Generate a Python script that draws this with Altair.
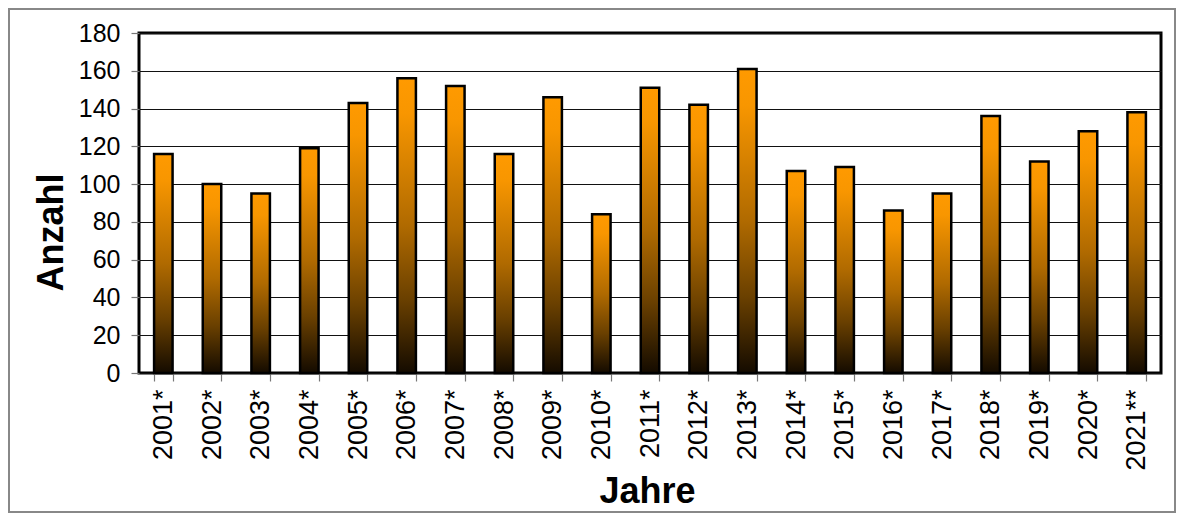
import altair as alt
import pandas as pd

years = ["2001*", "2002*", "2003*", "2004*", "2005*", "2006*", "2007*", "2008*", "2009*", "2010*",
         "2011*", "2012*", "2013*", "2014*", "2015*", "2016*", "2017*", "2018*", "2019*", "2020*", "2021**"]
counts = [116, 100, 95, 119, 143, 156, 152, 116, 146, 84,
          151, 142, 161, 107, 109, 86, 95, 136, 112, 128, 138]
y_ticks = [0, 20, 40, 60, 80, 100, 120, 140, 160, 180]

df = pd.DataFrame({"Jahr": years, "Anzahl": counts})

FONT = "Liberation Sans, Arial, sans-serif"
W, H = 1022, 340

gradient = alt.LinearGradient(
    gradient="linear",
    stops=[
        alt.GradientStop(color="#FF9A00", offset=0),
        alt.GradientStop(color="#F89600", offset=0.12),
        alt.GradientStop(color="#B06A00", offset=0.5),
        alt.GradientStop(color="#6A4000", offset=0.75),
        alt.GradientStop(color="#140B00", offset=1),
    ],
    x1=0, x2=0, y1=0, y2=1,
)

bars = alt.Chart(df).mark_bar(
    color=gradient, stroke="#000000", strokeWidth=2.5
).encode(
    x=alt.X("Jahr:N", sort=years,
            scale=alt.Scale(paddingInner=0.62, paddingOuter=0.31),
            axis=alt.Axis(
                title="Jahre", labelAngle=270, labelAlign="right", labelBaseline="middle",
                labelFont=FONT, labelFontSize=27, labelColor="#000", labelPadding=8,
                tickBand="extent", ticks=True, tickSize=8, tickColor="#777", tickWidth=1.2,
                domain=False, grid=False,
                titleFont=FONT, titleFontSize=36, titleFontWeight="bold", titleColor="#000",
                titleBaseline="alphabetic", titleY=129, titleX=W / 2 - 3,
            )),
    y=alt.Y("Anzahl:Q",
            scale=alt.Scale(domain=[0, 180], nice=False),
            axis=alt.Axis(
                title="Anzahl", values=y_ticks,
                labelFont=FONT, labelFontSize=25, labelColor="#000", labelPadding=11,
                ticks=True, tickSize=8, tickColor="#777", tickWidth=1.2,
                domain=False,
                grid=True, gridColor="#111", gridWidth=1.2,
                titleFont=FONT, titleFontSize=36, titleFontWeight="bold", titleColor="#000",
                titleAngle=270, titleBaseline="alphabetic", titleX=-77, titleY=199,
            )),
)

frame = alt.Chart(df).mark_rect(
    fill=None, fillOpacity=0, stroke="#888888", strokeWidth=1.5
).encode(
    x=alt.value(-130), x2=alt.value(W + 14),
    y=alt.value(-24), y2=alt.value(H + 139),
)

chart = alt.layer(frame, bars).properties(
    width=W, height=H,
    background="white",
    padding={"left": 131, "top": 25, "right": 15, "bottom": 140},
    autosize=alt.AutoSizeParams(type="none"),
).configure_view(
    stroke="#000000", strokeWidth=3
)

chart.save("out.html", embed_options={"renderer": "svg", "actions": False})
